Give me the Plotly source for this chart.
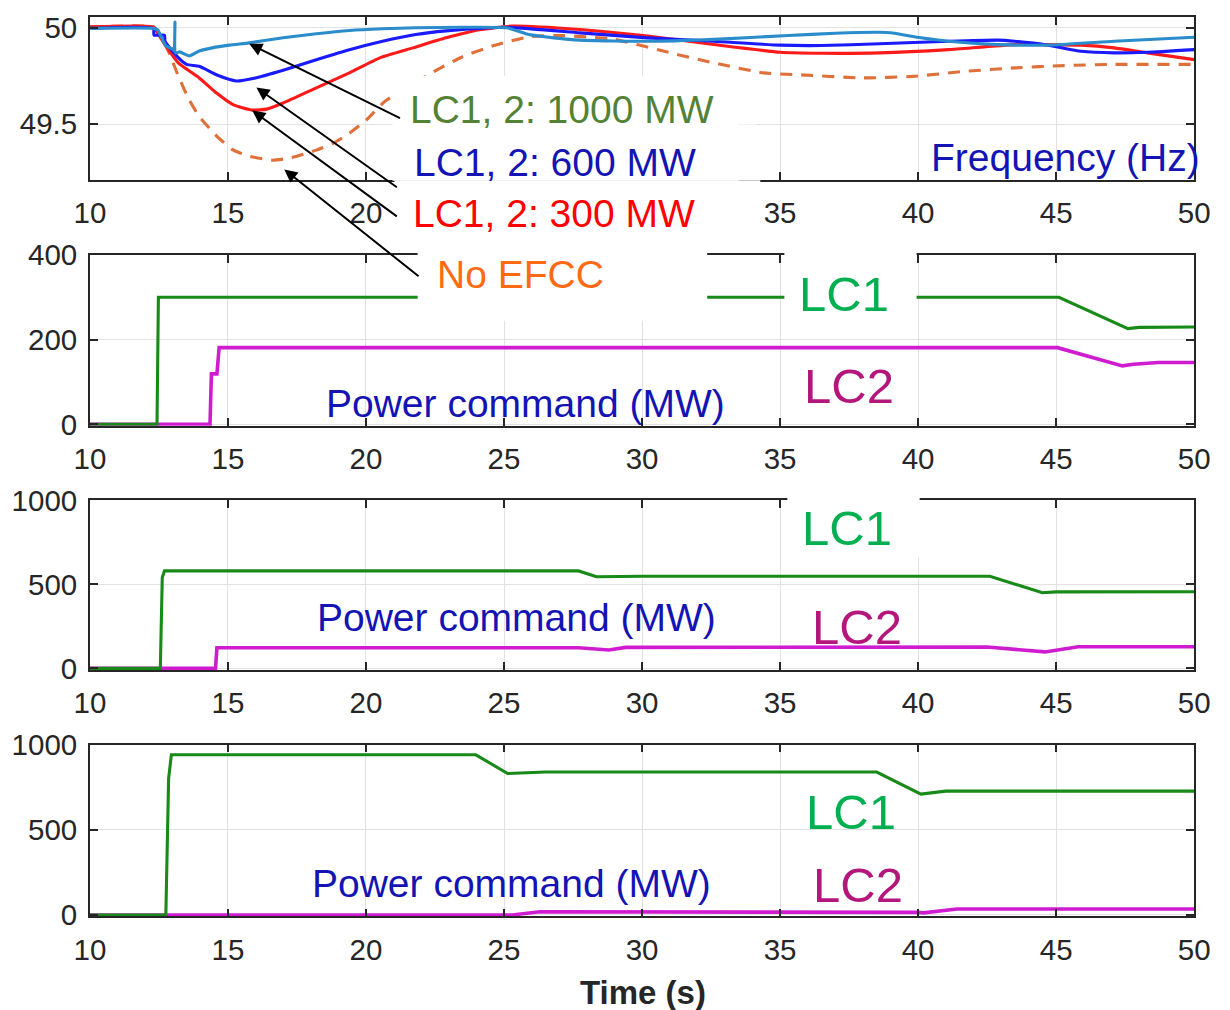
import plotly.graph_objects as go

# ---------------- data ----------------
# Panel 1: frequency (Hz)
t_f1000 = [10, 12.3, 12.45, 12.75, 13.0, 13.05, 13.08, 13.1, 13.25, 13.6, 13.96, 14.43, 15.05, 15.77,
           17.0, 18.2, 19.4, 20.6, 21.8, 23.5, 25.1, 25.9, 26.8, 27.75, 30.2, 32.6, 35.3, 37.0, 38.6,
           39.0, 40.1, 41.1, 42.9, 44.7, 47.1, 50]
f_1000 = [49.997, 49.997, 49.99, 49.906, 49.89, 49.88, 50.03, 49.87, 49.875, 49.854, 49.88, 49.896,
          49.91, 49.922, 49.948, 49.969, 49.986, 49.995, 50.0, 50.003, 50.0, 49.965, 49.948, 49.936,
          49.93, 49.94, 49.96, 49.972, 49.977, 49.974, 49.948, 49.93, 49.913, 49.91, 49.93, 49.951]

t_f600 = [10, 12.3, 12.32, 12.7, 12.72, 13.2, 13.5, 13.96, 14.6, 15.3, 16.0, 17.0, 18.2, 19.4, 20.6,
          21.8, 22.9, 25.0, 27.75, 30.2, 32.6, 35.0, 36.5, 38.6, 41.1, 42.9, 43.5, 44.7, 45.9, 47.1,
          48.3, 50]
f_600 = [49.997, 49.997, 49.962, 49.962, 49.93, 49.845, 49.81, 49.80, 49.755, 49.724, 49.74, 49.78,
         49.834, 49.886, 49.93, 49.965, 49.984, 50.003, 49.974, 49.948, 49.93, 49.91, 49.908, 49.917,
         49.93, 49.936, 49.93, 49.91, 49.878, 49.87, 49.873, 49.887]

t_f300 = [10, 12.3, 12.4, 12.75, 13.2, 13.96, 14.6, 15.2, 15.9, 16.4, 17.0, 18.2, 19.4, 20.5, 21.7,
          22.9, 24.1, 25.3, 27.75, 30.2, 32.6, 35.0, 36.5, 38.6, 41.1, 43.5, 45.9, 47.1, 48.3, 50]
f_300 = [50.005, 50.005, 49.985, 49.906, 49.818, 49.74, 49.66, 49.6, 49.573, 49.578, 49.61, 49.688,
         49.766, 49.844, 49.896, 49.948, 49.99, 50.009, 49.991, 49.957, 49.913, 49.873, 49.868, 49.87,
         49.887, 49.913, 49.91, 49.896, 49.87, 49.835]

t_fno = [10, 12.3, 12.5, 12.87, 13.2, 13.6, 13.96, 14.6, 15.2, 15.8, 16.6, 17.2, 18.2, 18.8, 19.4,
         20.0, 20.7, 22.3, 23.5, 24.7, 25.9, 27.1, 29.0, 30.8, 32.6, 34.4, 35.6, 38.0, 39.8, 41.7,
         43.5, 45.3, 47.1, 50]
f_no = [50.005, 50.005, 49.974, 49.87, 49.75, 49.625, 49.54, 49.437, 49.365, 49.333, 49.313, 49.323,
        49.365, 49.4, 49.453, 49.52, 49.62, 49.76, 49.85, 49.911, 49.953, 49.96, 49.94, 49.878,
        49.818, 49.766, 49.757, 49.74, 49.748, 49.774, 49.792, 49.804, 49.81, 49.81]

# Panel 2: power command, 300 MW case
t_lc1_300 = [10, 12.43, 12.48, 45.1, 47.6, 48.0, 50]
p_lc1_300 = [0, 0, 300, 300, 226, 229, 230]
t_lc2_300 = [10, 14.35, 14.4, 14.6, 14.68, 45.05, 47.4, 47.8, 48.7, 50]
p_lc2_300 = [0, 0, 119, 119, 181, 181, 138, 142, 146, 146]

# Panel 3: power command, 600 MW case
t_lc1_600 = [10, 12.55, 12.62, 12.7, 27.7, 28.35, 30.0, 42.6, 44.5, 45.0, 50]
p_lc1_600 = [0, 0, 540, 580, 580, 545, 548, 548, 450, 455, 456]
t_lc2_600 = [10, 14.55, 14.6, 27.7, 28.8, 29.4, 42.5, 44.6, 45.8, 50]
p_lc2_600 = [0, 0, 123, 123, 109, 125, 127, 98, 129, 129]

# Panel 4: power command, 1000 MW case
t_lc1_1000 = [10, 12.75, 12.85, 12.95, 23.98, 25.13, 26.5, 38.5, 40.1, 41.0, 50]
p_lc1_1000 = [0, 0, 800, 940, 940, 830, 839, 839, 709, 727, 727]
t_lc2_1000 = [10, 25.3, 26.3, 38.5, 40.0, 40.2, 41.4, 50]
p_lc2_1000 = [0, 0, 19, 20, 15, 12, 35, 35]

x_ticks = [10, 15, 20, 25, 30, 35, 40, 45, 50]
x_tick_text = ['10', '15', '20', '25', '30', '35', '40', '45', '50']
# in the top panel the 25 and 30 labels are hidden behind the label box
x_tick_text_top = ['10', '15', '20', '', '', '35', '40', '45', '50']

# ---------------- geometry helpers ----------------
W, H = 1230, 1010
S = 0.972            # the photographed page appears scaled by this factor about its centre
CX, CY = W / 2, H / 2


def fx(p):           # target picture x (px) -> figure x (px)
    return CX + (p - CX) / S


def fy(p):
    return CY + (p - CY) / S


def PX(p):
    return fx(p) / W


def PY(p):
    return 1 - fy(p) / H


def y_axis_geom(top_px, bot_px, v1, p1, v2, p2):
    """domain and range so that value v1 appears at picture px p1 and v2 at p2"""
    ft = max(0.0, fy(top_px))
    fb = min(float(H), fy(bot_px))
    slope = (v2 - v1) / (p2 - p1)

    def val(fpx):
        ref = CY + (fpx - CY) * S
        return v1 + (ref - p1) * slope
    return [1 - fb / H, 1 - ft / H], [val(fb), val(ft)]


C_CYAN = '#2a8ccb'
C_BLUE = '#1a1aff'
C_RED = '#ff1a1a'
C_ORANGE = '#e0703a'
C_GREEN = '#178a17'
C_MAG = '#d01cd0'

fig = go.Figure()

freq_series = [
    (t_fno, f_no, C_ORANGE, '12px,9px'),
    (t_f300, f_300, C_RED, 'solid'),
    (t_f600, f_600, C_BLUE, 'solid'),
    (t_f1000, f_1000, C_CYAN, 'solid'),
]
for t, f, c, d in freq_series:
    fig.add_trace(go.Scatter(x=t, y=f, mode='lines', xaxis='x', yaxis='y',
                             line=dict(color=c, width=3.1, dash=d, shape='spline', smoothing=0.5)))

power_sets = [
    ('x2', 'y2', t_lc1_300, p_lc1_300, t_lc2_300, p_lc2_300),
    ('x3', 'y3', t_lc1_600, p_lc1_600, t_lc2_600, p_lc2_600),
    ('x4', 'y4', t_lc1_1000, p_lc1_1000, t_lc2_1000, p_lc2_1000),
]
for xa, ya, t1, p1, t2, p2 in power_sets:
    fig.add_trace(go.Scatter(x=t2, y=p2, mode='lines', xaxis=xa, yaxis=ya,
                             line=dict(color=C_MAG, width=3.6)))
    fig.add_trace(go.Scatter(x=t1, y=p1, mode='lines', xaxis=xa, yaxis=ya,
                             line=dict(color=C_GREEN, width=3.1)))

AX_COLOR = '#262626'
FONT = 'Liberation Sans, Arial, sans-serif'
tick_font = dict(family=FONT, size=29.5, color=AX_COLOR)


def xaxis(anchor, labels):
    return dict(anchor=anchor, domain=[PX(91), PX(1193)], range=[10, 50],
                tickmode='array', tickvals=x_ticks, ticktext=labels,
                ticks='inside', ticklen=8, tickwidth=1.5, tickcolor=AX_COLOR,
                showline=True, linecolor=AX_COLOR, linewidth=1.6, mirror='ticks',
                showgrid=True, gridcolor='#e2e2e2', gridwidth=1, zeroline=False,
                tickfont=tick_font, ticklabelstandoff=6)


def yaxis(anchor, dom, rng, ticks):
    return dict(anchor=anchor, domain=dom, range=rng, tickvals=ticks,
                ticks='inside', ticklen=8, tickwidth=1.5, tickcolor=AX_COLOR,
                showline=True, linecolor=AX_COLOR, linewidth=1.6, mirror='ticks',
                showgrid=True, gridcolor='#e2e2e2', gridwidth=1, zeroline=False,
                tickfont=tick_font, ticklabelstandoff=5)


d1, r1 = y_axis_geom(7, 177.7, 50.0, 25.0, 49.5, 121.7)
d2, r2 = y_axis_geom(253, 424.5, 400, 253, 0, 423)
d3, r3 = y_axis_geom(499.3, 669.5, 1000, 499.3, 0, 668)
d4, r4 = y_axis_geom(744.5, 917, 1000, 744.5, 0, 915.5)

fig.update_layout(
    width=W, height=H, margin=dict(l=0, r=0, t=0, b=0),
    paper_bgcolor='white', plot_bgcolor='white', showlegend=False,
    xaxis=xaxis('y', x_tick_text_top), xaxis2=xaxis('y2', x_tick_text),
    xaxis3=xaxis('y3', x_tick_text), xaxis4=xaxis('y4', x_tick_text),
    yaxis=yaxis('x', d1, r1, [49.5, 50]),
    yaxis2=yaxis('x2', d2, r2, [0, 200, 400]),
    yaxis3=yaxis('x3', d3, r3, [0, 500, 1000]),
    yaxis4=yaxis('x4', d4, r4, [0, 500, 1000]),
)

# white label boxes of the original overlay (picture px: x0, y0, x1, y1)
boxes = [
    (393, 73, 755, 122),
    (393, 121, 738, 178.5),
    (395, 178, 760, 240),
    (418, 238, 707, 319),
    (784, 245, 916, 316),
    (787, 490, 919, 556),
]
for x0, y0, x1, y1 in boxes:
    fig.add_shape(type='rect', xref='paper', yref='paper', x0=PX(x0), x1=PX(x1), y0=PY(y1), y1=PY(y0),
                  fillcolor='white', line=dict(width=0), layer='above')

labels = [
    ('LC1, 2: 1000 MW', 562, 107, '#548235', 39),
    ('LC1, 2: 600 MW', 555, 160, '#1414b4', 39),
    ('LC1, 2: 300 MW', 554, 211, '#ff0000', 39),
    ('No EFCC', 521, 273, '#ff6a13', 39),
    ('Frequency (Hz)', 1065, 155, '#1414b4', 39),
    ('LC1', 844, 292, '#00b050', 49),
    ('LC2', 849, 385, '#b4167c', 49),
    ('Power command (MW)', 526, 402, '#1414b4', 39),
    ('LC1', 847, 527, '#00b050', 49),
    ('LC2', 857, 626, '#b4167c', 49),
    ('Power command (MW)', 517, 617, '#1414b4', 39),
    ('LC1', 851, 812, '#00b050', 49),
    ('LC2', 858, 885, '#b4167c', 49),
    ('Power command (MW)', 512, 884, '#1414b4', 39),
]
for txt, xc, yc, col, sz in labels:
    fig.add_annotation(text=txt, xref='paper', yref='paper', x=PX(xc), y=PY(yc),
                       xanchor='center', yanchor='middle', showarrow=False,
                       font=dict(family=FONT, size=sz, color=col))

fig.add_annotation(text='<b>Time (s)</b>', xref='paper', yref='paper', x=PX(643), y=PY(993),
                   xanchor='center', yanchor='middle', showarrow=False,
                   font=dict(family=FONT, size=33, color=AX_COLOR))

# arrows from the labels to the frequency curves (head in data coords, tail offset in picture px)
arrows = [
    (15.77, 49.917, 148, 73),
    (16.03, 49.69, 138, 98),
    (15.88, 49.571, 142, 104),
    (17.04, 49.265, 132, 105),
]
for hx, hy, ax, ay in arrows:
    fig.add_annotation(text='', x=hx, y=hy, xref='x', yref='y', ax=ax / S, ay=ay / S,
                       axref='pixel', ayref='pixel',
                       showarrow=True, arrowhead=2, arrowsize=1.3, arrowwidth=2, arrowcolor='black',
                       standoff=0, startstandoff=0)

fig.write_html('out.html')
